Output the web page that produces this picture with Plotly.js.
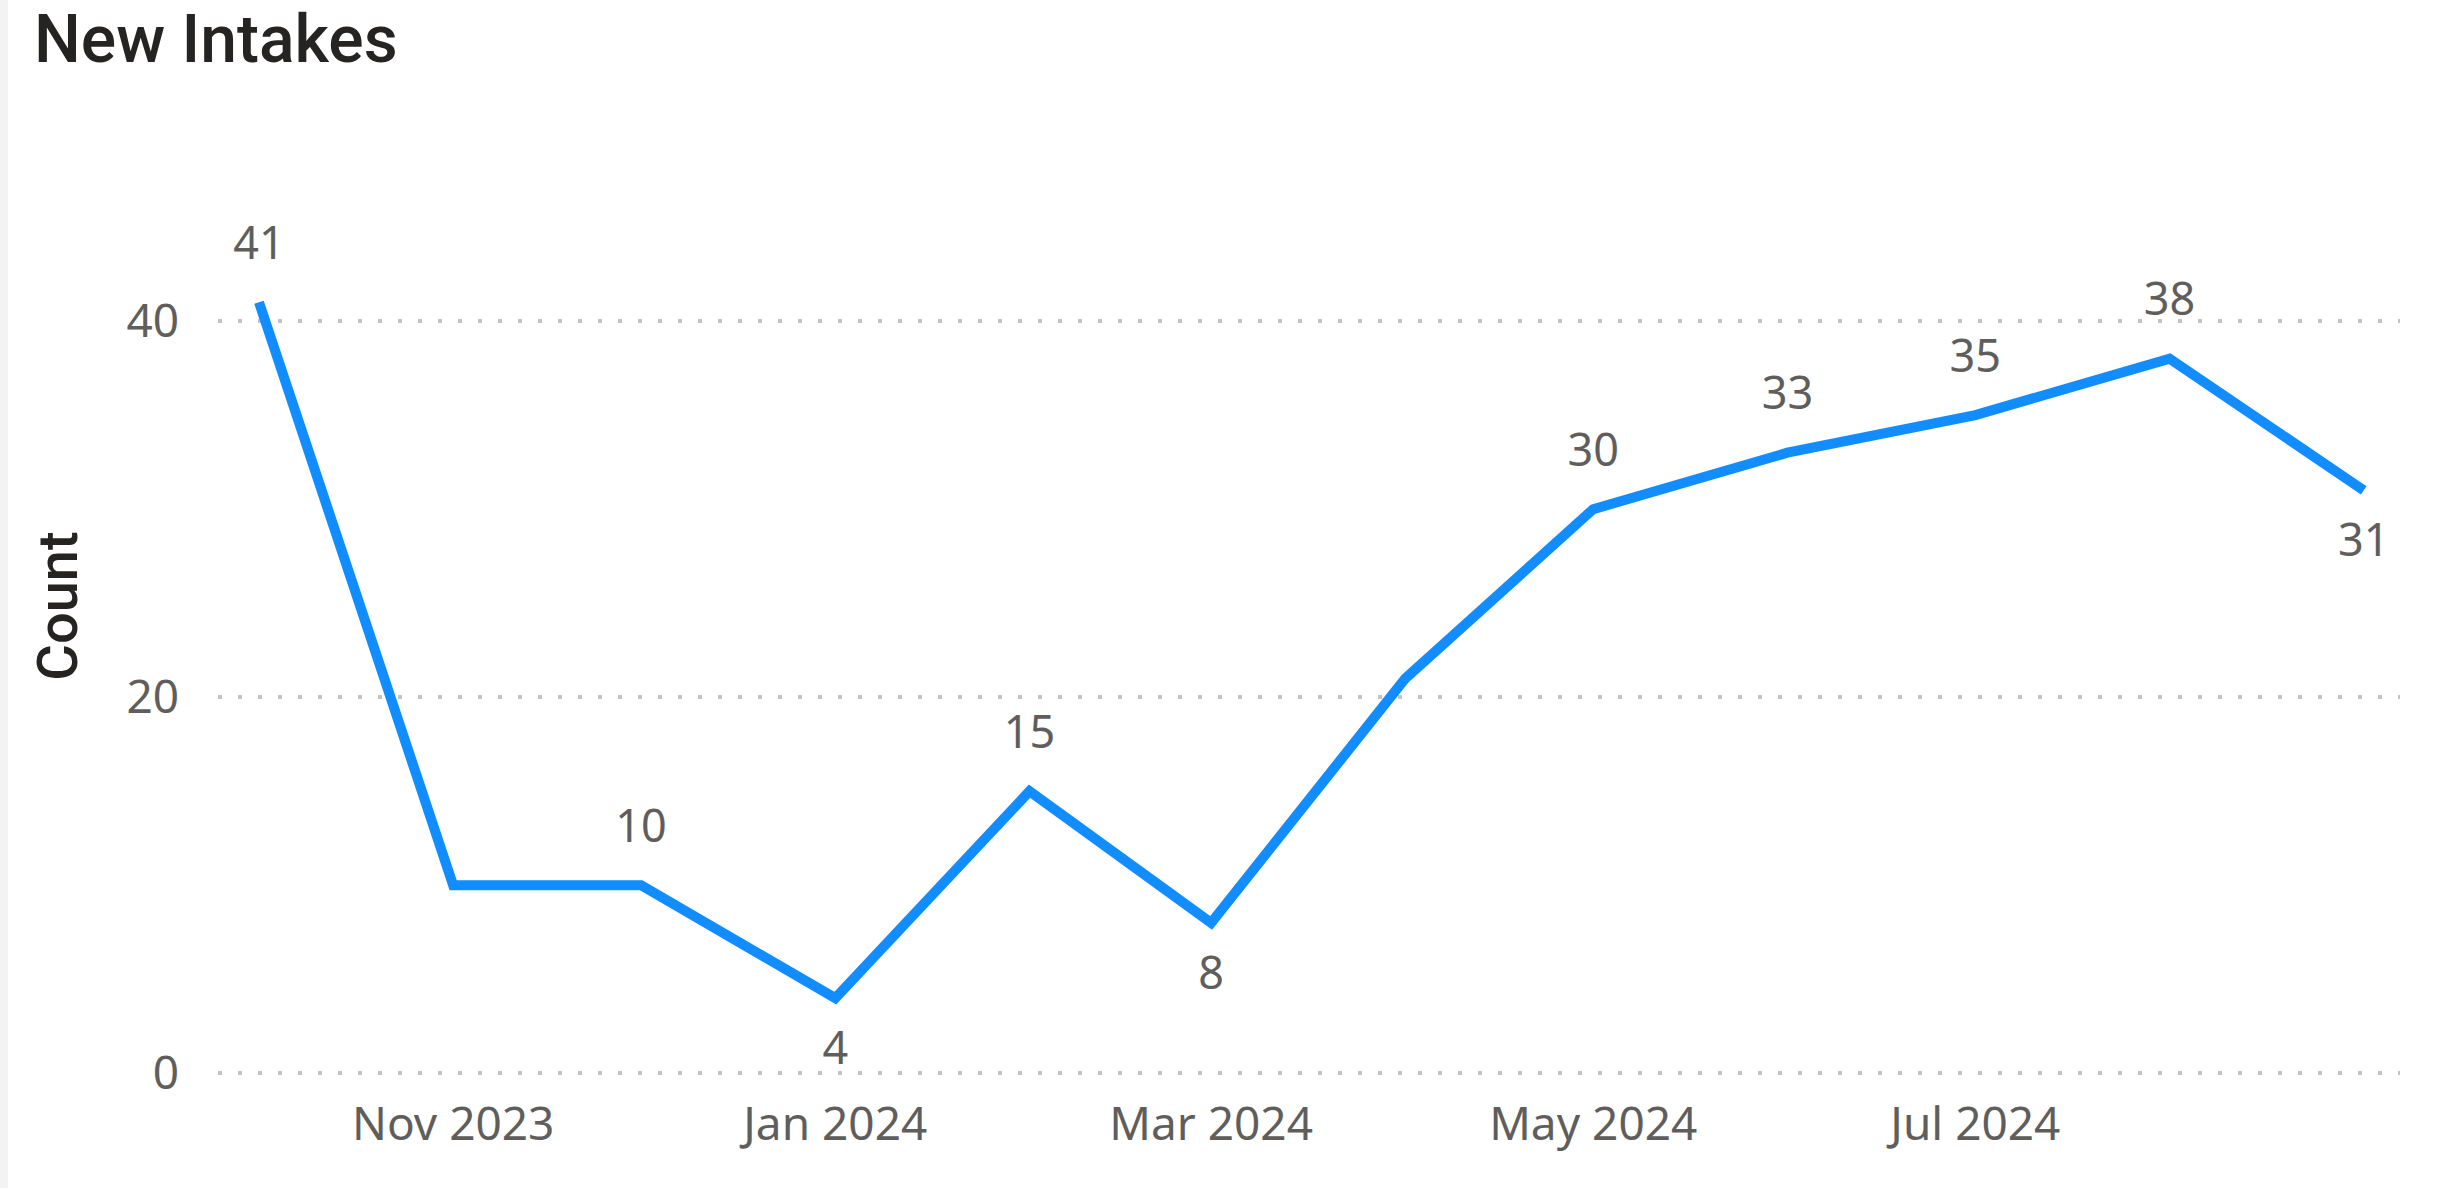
<!DOCTYPE html>
<html><head><meta charset="utf-8">
<script src="https://cdn.plot.ly/plotly-3.0.1.min.js"></script>
<style>
html,body{margin:0;padding:0;background:#fff;overflow:hidden}
#chart{width:2457px;height:1188px}
#edge{position:absolute;left:0;top:0;width:8px;height:1188px;background:#f3f3f3}
</style></head><body>
<div id="chart"></div><div id="edge"></div>
<script>
const months = ['2023-10-01','2023-11-01','2023-12-01','2024-01-01','2024-02-01','2024-03-01',
                '2024-04-01','2024-05-01','2024-06-01','2024-07-01','2024-08-01','2024-09-01'];
const intakes = [41,10,10,4,15,8,21,30,33,35,38,31];
const labelShown = [true,false,true,true,true,true,false,true,true,true,true,true];
const labelPlacement = ['top center','top center','top center','bottom center','top center','bottom center',
                        'top center','top center','top center','top center','top center','bottom center'];
const yTicks = [0,20,40];
const chartTitle = 'New Intakes';
const yTitle = 'Count';

const labels = intakes.map((v,i)=> labelShown[i] ? String(v) : '');

const trace = {
  type:'scatter', mode:'lines+markers+text',
  x: months, y: intakes,
  line:{color:'#118DFF', width:10, shape:'linear'},
  marker:{size:50, color:'rgba(0,0,0,0)'},
  text: labels, textposition: labelPlacement,
  textfont:{family:'Noto Sans', size:45, color:'#605E5C'},
  cliponaxis:false, hoverinfo:'x+y'
};

const layout = {
  width:2457, height:1188,
  margin:{l:218, r:57, t:133, b:109},
  paper_bgcolor:'#ffffff', plot_bgcolor:'#ffffff',
  showlegend:false,
  title:{text:chartTitle, xref:'container', yref:'container', x:34/2457, xanchor:'left',
         y:0.967, yanchor:'middle', pad:{l:0,r:0,t:0,b:0},
         font:{family:'Roboto', size:66, weight:500, color:'#252423'}},
  xaxis:{type:'date', range:['2023-09-24 11:00','2024-09-06 19:00'],
         tick0:'2023-11-01', dtick:'M2', tickformat:'%b %Y',
         showgrid:false, zeroline:false, showline:false, ticks:'',
         ticklabelstandoff:14,
         tickfont:{family:'Noto Sans', size:46, color:'#605E5C'}},
  yaxis:{range:[-0.3,50], tickvals:yTicks, ticktext:yTicks.map(String),
         showgrid:true, gridcolor:'#C4C4C4', gridwidth:4, griddash:'4px,16px',
         zeroline:false, showline:false, ticks:'', ticklabelstandoff:38,
         tickfont:{family:'Noto Sans', size:46, color:'#605E5C'},
         title:{text:yTitle, standoff:30, font:{family:'Roboto', size:56, weight:500, color:'#252423'}}}
};

Plotly.newPlot('chart',[trace],layout,{displayModeBar:false,staticPlot:true});
</script>
</body></html>
